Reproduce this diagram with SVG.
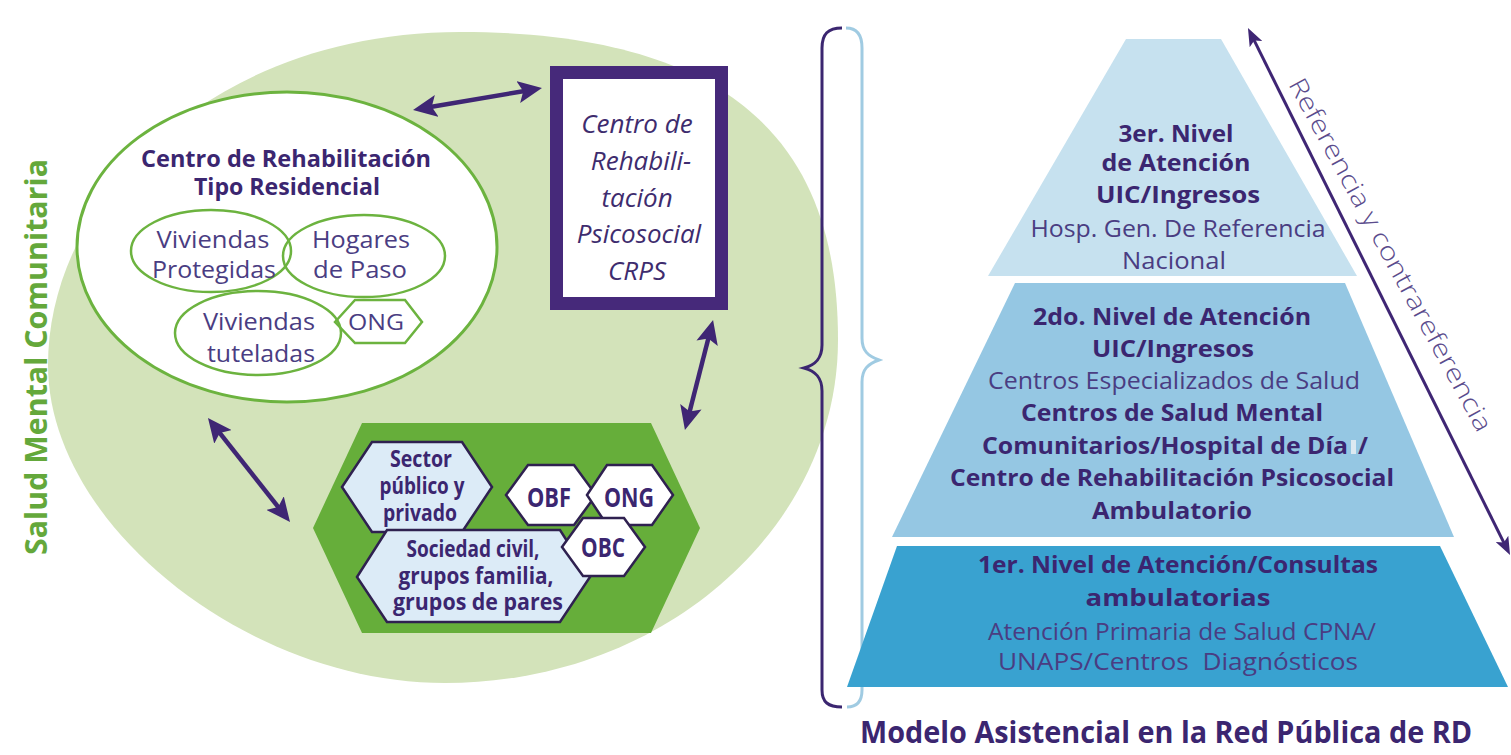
<svg xmlns="http://www.w3.org/2000/svg" width="1511" height="755" viewBox="0 0 1511 755">
<defs>
<style>
text{font-family:"Open Sans","Noto Sans","DejaVu Sans",sans-serif;}
.b{font-weight:700;fill:#3b2670;}
.r{font-weight:400;fill:#4a3d82;}
.it{font-style:italic;font-weight:400;fill:#3e2c6e;font-size:26px;}
.m{text-anchor:middle;}
.sub{fill:none;stroke:#6cb33f;stroke-width:2.5;}
.hx{stroke:#2f2150;stroke-width:2.5;}
.arr{stroke:#3f2674;stroke-width:4.5;fill:none;marker-start:url(#ah);marker-end:url(#ah);}
</style>
<marker id="ah" viewBox="0 0 24 22" refX="8" refY="11" markerWidth="24" markerHeight="22" markerUnits="userSpaceOnUse" orient="auto-start-reverse"><path d="M0,0 L24,11 L0,22 L5,11 Z" fill="#3f2674"/></marker>
<marker id="ah2" viewBox="0 0 18 14" refX="6" refY="7" markerWidth="18" markerHeight="14" markerUnits="userSpaceOnUse" orient="auto-start-reverse"><path d="M0,0 L18,7 L0,14 L4,7 Z" fill="#3f2674"/></marker>
</defs>
<rect width="1511" height="755" fill="#ffffff"/>

<g id="salud-mental-comunitaria">
<path d="M460,32 C762,32 838,170.6 838,340 C838,529 662,683 445,683 C246.5,683 48,524 48,365 C48,198.5 212.8,32 460,32 Z" fill="#d3e3ba"/>
<text class="m" transform="translate(47,357) rotate(-90)" font-size="31" font-weight="700" fill="#64a83b" textLength="396" lengthAdjust="spacingAndGlyphs">Salud Mental Comunitaria</text>
</g>

<g id="centro-residencial">
<ellipse cx="287" cy="247" rx="210" ry="155" fill="#ffffff" stroke="#6cb33f" stroke-width="3"/>
<text class="b m" x="286" y="167" font-size="24" textLength="290" lengthAdjust="spacingAndGlyphs">Centro de Rehabilitación</text>
<text class="b m" x="287" y="195" font-size="24" textLength="186" lengthAdjust="spacingAndGlyphs">Tipo Residencial</text>
</g>

<g id="viviendas-protegidas">
<ellipse class="sub" cx="211" cy="251" rx="80" ry="41"/>
<text class="r m" x="213" y="248" font-size="23" textLength="113" lengthAdjust="spacingAndGlyphs">Viviendas</text>
<text class="r m" x="214" y="278" font-size="23" textLength="124" lengthAdjust="spacingAndGlyphs">Protegidas</text>
</g>

<g id="hogares-de-paso">
<ellipse class="sub" cx="364" cy="256" rx="81" ry="41"/>
<text class="r m" x="361" y="248" font-size="23" textLength="98" lengthAdjust="spacingAndGlyphs">Hogares</text>
<text class="r m" x="360" y="278" font-size="23" textLength="94" lengthAdjust="spacingAndGlyphs">de Paso</text>
</g>

<g id="ong-residencial">
<polygon points="335,322 355,300 405,300 422,322 405,343 355,343" fill="#ffffff" stroke="#6cb33f" stroke-width="2.5"/>
<text class="r m" x="376" y="330" font-size="22" textLength="56" lengthAdjust="spacingAndGlyphs">ONG</text>
</g>

<g id="viviendas-tuteladas">
<ellipse class="sub" cx="258" cy="333" rx="83" ry="42"/>
<text class="r m" x="259" y="330" font-size="23" textLength="112" lengthAdjust="spacingAndGlyphs">Viviendas</text>
<text class="r m" x="261" y="362" font-size="23" textLength="108" lengthAdjust="spacingAndGlyphs">tuteladas</text>
</g>

<g id="crps">
<rect x="556.5" y="72.5" width="165" height="231" fill="#ffffff" stroke="#46297a" stroke-width="13"/>
<text class="it m" x="637" y="133">Centro de</text>
<text class="it m" x="641" y="170">Rehabili-</text>
<text class="it m" x="637" y="207">tación</text>
<text class="it m" x="639" y="243">Psicosocial</text>
<text class="it m" x="637" y="280">CRPS</text>
</g>

<g id="comunidad">
<polygon points="313,528 362,423 651,423 700,528 651,633 362,633" fill="#66ae3a"/>
</g>

<g id="sector-publico-privado">
<polygon class="hx" points="342,487 372,442 462,442 492,487 462,532 372,532" fill="#dcebf7"/>
<text class="b m" x="421" y="467" font-size="23" textLength="62" lengthAdjust="spacingAndGlyphs">Sector</text>
<text class="b m" x="422" y="494" font-size="23" textLength="85" lengthAdjust="spacingAndGlyphs">público y</text>
<text class="b m" x="420" y="521" font-size="23" textLength="74" lengthAdjust="spacingAndGlyphs">privado</text>
</g>

<g id="sociedad-civil">
<polygon class="hx" points="357,577 387,530 560,530 590,577 560,622 387,622" fill="#dcebf7"/>
<text class="b m" x="473" y="557" font-size="23" textLength="133" lengthAdjust="spacingAndGlyphs">Sociedad civil,</text>
<text class="b m" x="476" y="584" font-size="23" textLength="155" lengthAdjust="spacingAndGlyphs">grupos familia,</text>
<text class="b m" x="478" y="610" font-size="23" textLength="170" lengthAdjust="spacingAndGlyphs">grupos de pares</text>
</g>

<g id="obf">
<polygon class="hx" points="506,495 528,465 574,465 596,495 574,525 528,525" fill="#ffffff"/>
<text class="b m" x="549" y="507" font-size="26" textLength="44" lengthAdjust="spacingAndGlyphs">OBF</text>
</g>

<g id="ong">
<polygon class="hx" points="587,495 607,465 652,465 673,495 652,525 607,525" fill="#ffffff"/>
<text class="b m" x="629" y="507" font-size="26" textLength="50" lengthAdjust="spacingAndGlyphs">ONG</text>
</g>

<g id="obc">
<polygon class="hx" points="562,547 583,518 624,518 645,547 624,576 583,576" fill="#ffffff"/>
<text class="b m" x="603" y="557" font-size="26" textLength="44" lengthAdjust="spacingAndGlyphs">OBC</text>
</g>

<g id="llave">
<path d="M842,28 C828,28 822,34 822,48 L822,345 C822,359 815,365 804,368 C815,371 822,377 822,391 L822,690 C822,702 828,707 842,707" fill="none" stroke="#3b2670" stroke-width="3"/>
<path d="M846,28 C856,28 862,34 862,48 L862,338 C862,351 868,356 879,360 C868,364 862,369 862,382 L862,690 C862,702 856,707 847,707" fill="none" stroke="#a0cbe2" stroke-width="3"/>
</g>

<g id="nivel-3">
<polygon points="1126,39 1221,39 1357,276 988,276" fill="#c6e1ef"/>
<text class="b m" x="1176" y="142" font-size="24" textLength="115" lengthAdjust="spacingAndGlyphs">3er. Nivel</text>
<text class="b m" x="1176" y="171" font-size="24" textLength="149" lengthAdjust="spacingAndGlyphs">de Atención</text>
<text class="b m" x="1178" y="203" font-size="24" textLength="164" lengthAdjust="spacingAndGlyphs">UIC/Ingresos</text>
<text class="r m" x="1178" y="237" font-size="24" textLength="295" lengthAdjust="spacingAndGlyphs">Hosp. Gen. De Referencia</text>
<text class="r m" x="1174" y="269" font-size="24" textLength="104" lengthAdjust="spacingAndGlyphs">Nacional</text>
</g>

<g id="nivel-2">
<polygon points="1015,283 1345,283 1454,537 892,537" fill="#95c7e3"/>
<text class="b m" x="1172" y="325" font-size="24" textLength="278" lengthAdjust="spacingAndGlyphs">2do. Nivel de Atención</text>
<text class="b m" x="1173" y="357" font-size="24" textLength="162" lengthAdjust="spacingAndGlyphs">UIC/Ingresos</text>
<text class="r m" x="1174" y="389" font-size="24" textLength="372" lengthAdjust="spacingAndGlyphs">Centros Especializados de Salud</text>
<text class="b m" x="1172" y="421" font-size="24" textLength="302" lengthAdjust="spacingAndGlyphs">Centros de Salud Mental</text>
<text class="b" x="982" y="454" font-size="24" textLength="366" lengthAdjust="spacingAndGlyphs">Comunitarios/Hospital de Día</text>
<rect x="1351" y="440" width="5" height="14" fill="#dce9f1"/>
<text class="b" x="1358" y="454" font-size="24">/</text>
<text class="b m" x="1172" y="486" font-size="24" textLength="444" lengthAdjust="spacingAndGlyphs">Centro de Rehabilitación Psicosocial</text>
<text class="b m" x="1172" y="519" font-size="24" textLength="160" lengthAdjust="spacingAndGlyphs">Ambulatorio</text>
</g>

<g id="nivel-1">
<polygon points="897,546 1440,546 1508,687 847,687" fill="#39a2d0"/>
<text class="b m" x="1178" y="573" font-size="24" textLength="400" lengthAdjust="spacingAndGlyphs">1er. Nivel de Atención/Consultas</text>
<text class="b m" x="1178" y="606" font-size="24" textLength="185" lengthAdjust="spacingAndGlyphs">ambulatorias</text>
<text class="r m" x="1182" y="640" font-size="24" textLength="388" lengthAdjust="spacingAndGlyphs">Atención Primaria de Salud CPNA/</text>
<text class="r m" x="1178" y="670" font-size="24" textLength="360" lengthAdjust="spacingAndGlyphs" xml:space="preserve">UNAPS/Centros  Diagnósticos</text>
</g>

<g id="titulo">
<text class="b m" x="1166" y="743" font-size="30" fill="#3b2467" textLength="612" lengthAdjust="spacingAndGlyphs">Modelo Asistencial en la Red Pública de RD</text>
</g>

<g id="referencia">
<text transform="translate(1288,84) rotate(61.5)" font-size="25" font-weight="300" fill="#5a4b8c" textLength="398" lengthAdjust="spacingAndGlyphs">Referencia y contrareferencia</text>
</g>

<g id="conectores">
<line class="arr" x1="428.8" y1="107.3" x2="526.2" y2="90.7"/>
<line class="arr" x1="709.1" y1="335.5" x2="688.9" y2="414.5"/>
<line class="arr" x1="217.9" y1="430.6" x2="280.1" y2="509.4"/>
<line x1="1253.3" y1="38.7" x2="1504.7" y2="544.3" stroke="#3f2674" stroke-width="3" marker-start="url(#ah2)" marker-end="url(#ah2)"/>
</g>
</svg>
